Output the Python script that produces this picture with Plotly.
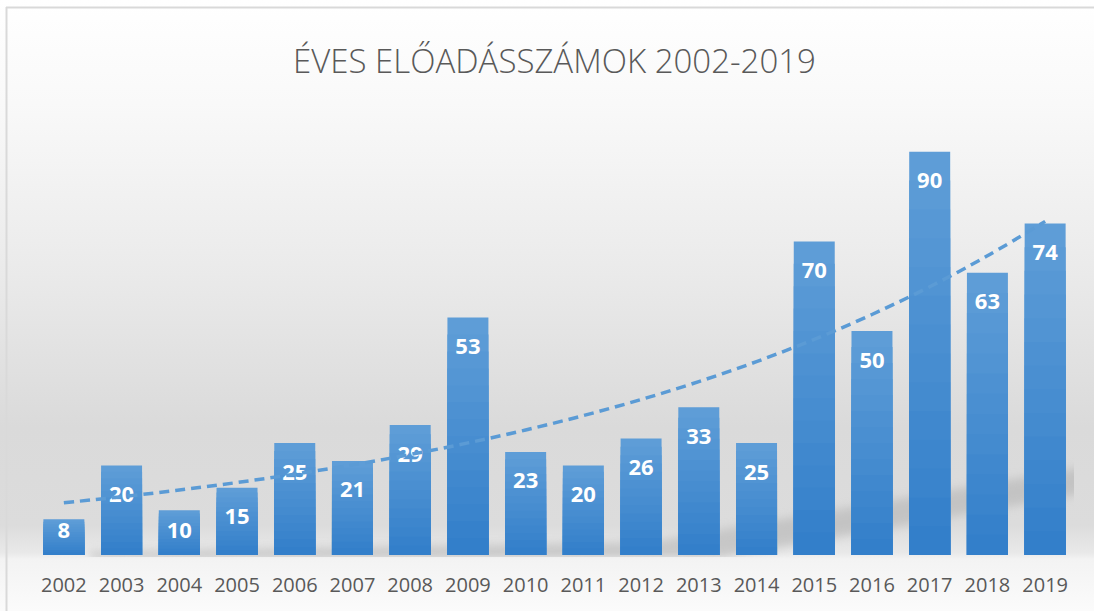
import numpy as np
import urllib.parse
import plotly.graph_objects as go

# ---- data ----
years = ["2002", "2003", "2004", "2005", "2006", "2007", "2008", "2009", "2010",
         "2011", "2012", "2013", "2014", "2015", "2016", "2017", "2018", "2019"]
counts = [8, 20, 10, 15, 25, 21, 29, 53, 23, 20, 26, 33, 25, 70, 50, 90, 63, 74]
title_text = "ÉVES ELŐADÁSSZÁMOK 2002-2019"

W, H = 1094, 611
ML, MR, MT, MB = 35, 20, 107, 56
YMAX = 100
plot_w = W - ML - MR
plot_h = H - MT - MB
px_per_unit = plot_h / YMAX

vals = np.array(counts, dtype=float)

# exponential trendline (least squares on log values, like Excel)
xi = np.arange(len(vals))
b, a = np.polyfit(xi, np.log(vals), 1)
trend = np.exp(a + b * xi)

fig = go.Figure()

# gradient bars: overlaid layers, top lighter -> bottom darker
top_c = np.array([0x5E, 0x9D, 0xD7])
bot_c = np.array([0x33, 0x7F, 0xCA])
N = 14
for k in range(N):
    frac = 1 - k / N
    t = k / (N - 1)
    c = top_c * (1 - t) + bot_c * t
    col = "rgb(%d,%d,%d)" % tuple(c.round().astype(int))
    fig.add_trace(go.Bar(
        x=years, y=vals * frac, marker=dict(color=col, line=dict(width=0)),
        width=0.71, hoverinfo="skip", showlegend=False))

# data labels (inside end), drawn below the trendline
label_off_px = np.minimum(31, vals * px_per_unit - 23)
label_y = vals - label_off_px / px_per_unit
fig.add_trace(go.Scatter(
    x=years, y=label_y, mode="text", text=[str(v) for v in counts],
    textposition="middle center",
    textfont=dict(family="Open Sans", size=22, color="white", weight="bold"),
    hoverinfo="skip", showlegend=False, cliponaxis=False))

# trendline
fig.add_trace(go.Scatter(
    x=years, y=trend, mode="lines",
    line=dict(color="#5B9BD5", width=3.5, dash="10px,6px", shape="spline"),
    hoverinfo="skip", showlegend=False))

# background gradient as svg image covering the whole figure
svg = (
    "<svg xmlns='http://www.w3.org/2000/svg' width='%d' height='%d' viewBox='0 0 %d %d' preserveAspectRatio='none'>"
    "<defs><linearGradient id='g' x1='0' y1='0' x2='0' y2='1'>"
    "<stop offset='0' stop-color='#FFFFFF'/>"
    "<stop offset='0.17' stop-color='#F9F9F9'/>"
    "<stop offset='0.45' stop-color='#EAEAEA'/>"
    "<stop offset='0.70' stop-color='#DADADA'/>"
    "<stop offset='0.86' stop-color='#DCDCDC'/>"
    "<stop offset='0.905' stop-color='#E9E9E9'/>"
    "<stop offset='0.915' stop-color='#F3F3F3'/>"
    "<stop offset='1' stop-color='#FBFBFB'/>"
    "</linearGradient>"
    "<filter id='bl' x='-0.2' y='-0.5' width='1.4' height='2'><feGaussianBlur stdDeviation='5'/></filter>"
    "<clipPath id='cp'><rect x='%d' y='%d' width='%d' height='%d'/></clipPath>"
    "</defs>"
    "<rect width='100%%' height='100%%' fill='url(#g)'/>"
    "<g clip-path='url(#cp)'><polygon points='90,552 650,542 1090,466 1090,492 720,558 90,560' "
    "fill='#B4B4B4' opacity='0.6' filter='url(#bl)'/></g>"
    "<line x1='6' y1='7.5' x2='%d' y2='7.5' stroke='#D9D9D9' stroke-width='2'/>"
    "<line x1='6.5' y1='7' x2='6.5' y2='%d' stroke='#D9D9D9' stroke-width='2'/>"
    "</svg>" % (W, H, W, H, ML, MT, plot_w, plot_h + 2, W, H)
)
src = "data:image/svg+xml;charset=utf-8," + urllib.parse.quote(svg)

fig.add_layout_image(dict(
    source=src, xref="paper", yref="paper",
    x=-ML / plot_w, y=1 + MT / plot_h, sizex=W / plot_w, sizey=H / plot_h,
    xanchor="left", yanchor="top", sizing="stretch", layer="below"))

fig.update_layout(
    width=W, height=H,
    margin=dict(l=ML, r=MR, t=MT, b=MB, pad=0),
    paper_bgcolor="white", plot_bgcolor="rgba(0,0,0,0)",
    barmode="overlay",
    title=dict(text=title_text, x=0.5, xref="paper", xanchor="center",
               y=1 - 61 / H, yanchor="middle",
               font=dict(family="Open Sans", size=33, color="#595959", weight=300)),
    xaxis=dict(type="category", range=[-0.5, len(years) - 0.5],
               showgrid=False, showline=False, zeroline=False,
               ticks="", tickfont=dict(family="Open Sans", size=20, color="#595959"),
               ticklabelstandoff=16, fixedrange=True),
    yaxis=dict(range=[0, YMAX], visible=False, showgrid=False, zeroline=False, fixedrange=True),
    showlegend=False,
)

fig.write_html("out.html", config={"displayModeBar": False},
               post_script="document.body.style.margin='0';document.body.style.overflow='hidden';")
